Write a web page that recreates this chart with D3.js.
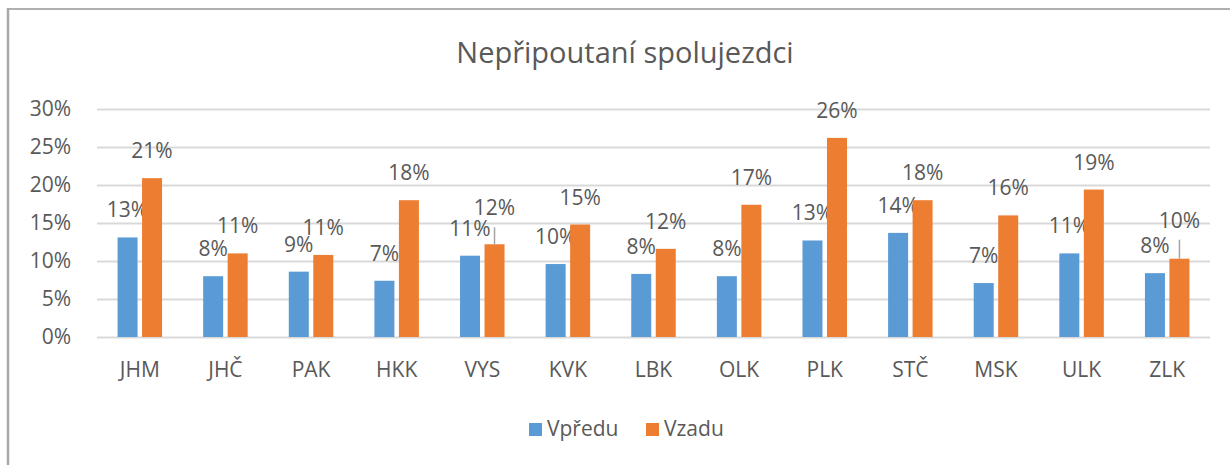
<!DOCTYPE html>
<html>
<head>
<meta charset="utf-8">
<script src="https://cdn.jsdelivr.net/npm/d3@7"></script>
<style>
  body { margin: 0; background: #fff; }
  text { font-family: "Open Sans", "Noto Sans", sans-serif; fill: #595959; }
</style>
</head>
<body>
<div id="chart"></div>
<script>
var categories = ["JHM", "JHČ", "PAK", "HKK", "VYS", "KVK", "LBK", "OLK", "PLK", "STČ", "MSK", "ULK", "ZLK"];
var vpredu = [0.131, 0.080, 0.086, 0.074, 0.107, 0.096, 0.083, 0.080, 0.127, 0.137, 0.071, 0.110, 0.084];
var vzadu = [0.209, 0.110, 0.108, 0.180, 0.122, 0.148, 0.116, 0.174, 0.262, 0.180, 0.160, 0.194, 0.103];
var seriesNames = ["Vpředu", "Vzadu"];
var yTicks = [0, 0.05, 0.10, 0.15, 0.20, 0.25, 0.30];
var title = "Nepřipoutaní spolujezdci";

function chart() {
  var width = 1230, height = 465;
  var margin = {top: 109, right: 20, bottom: 128, left: 97};
  var plotW = 1210 - margin.left;
  var plotH = 337 - margin.top;
  var colors = ["#5B9BD5", "#ED7D31"];
  var fs = "21px";

  var svg = d3.select("#chart")
    .append("svg")
      .attr("width", width)
      .attr("height", height);

  // chart frame (only top and left edges show)
  svg.append("line")
    .attr("x1", 7).attr("y1", 9).attr("x2", width).attr("y2", 9)
    .attr("stroke", "#b0b0b0").attr("stroke-width", 2);
  svg.append("line")
    .attr("x1", 8).attr("y1", 8).attr("x2", 8).attr("y2", height)
    .attr("stroke", "#a8a8a8").attr("stroke-width", 2.5);

  svg.append("text")
    .attr("x", 625).attr("y", 63)
    .attr("text-anchor", "middle")
    .style("font-size", "29px")
    .text(title);

  var g = svg.append("g")
    .attr("transform", "translate(" + margin.left + "," + margin.top + ")");

  var x = d3.scaleBand().domain(categories).range([0, plotW]);
  var y = d3.scaleLinear().domain([0, 0.30]).range([plotH, 0]);
  var barW = 20, gap = 4.5;

  // gridlines + y axis labels
  g.append("g")
    .call(d3.axisLeft(y).tickValues(yTicks).tickSize(-plotW).tickPadding(26)
      .tickFormat(d3.format(".0%")))
    .call(function(a) {
      a.select(".domain").remove();
      a.selectAll(".tick line").attr("stroke", "#d9d9d9").attr("stroke-width", 2);
      a.selectAll(".tick text").style("font-size", fs).attr("fill", "#595959");
    });

  // x axis labels
  g.append("g")
    .attr("transform", "translate(0," + plotH + ")")
    .call(d3.axisBottom(x).tickSize(0))
    .call(function(a) {
      a.select(".domain").remove();
      a.selectAll(".tick text").style("font-size", fs).attr("fill", "#595959")
        .attr("y", 40).attr("dy", 0);
    });

  var series = [vpredu, vzadu];
  // labels that were dragged up and got a leader line
  var lifted = {"VYS": 9, "ZLK": 11};

  series.forEach(function(vals, s) {
    var off = s === 0 ? -(barW + gap) / 2 : (barW + gap) / 2;
    function cx(d, i) { return x(categories[i]) + x.bandwidth() / 2 + off; }

    g.selectAll(".bar" + s)
      .data(vals)
      .enter()
      .append("rect")
        .attr("x", function(d, i) { return cx(d, i) - barW / 2; })
        .attr("y", function(d) { return y(d); })
        .attr("width", barW)
        .attr("height", function(d) { return plotH - y(d); })
        .attr("fill", colors[s]);

    g.selectAll(".lbl" + s)
      .data(vals)
      .enter()
      .append("text")
        .attr("x", cx)
        .attr("y", function(d, i) {
          var lift = s === 1 && lifted[categories[i]] ? lifted[categories[i]] : 0;
          return y(d) - 20 - lift;
        })
        .attr("text-anchor", "middle")
        .style("font-size", fs)
        .attr("fill", "#404040")
        .text(function(d) { return d3.format(".0%")(d); });

    if (s === 1) {
      vals.forEach(function(d, i) {
        var lift = lifted[categories[i]];
        if (!lift) return;
        g.append("line")
          .attr("x1", cx(d, i)).attr("x2", cx(d, i))
          .attr("y1", y(d) - lift - 8).attr("y2", y(d))
          .attr("stroke", "#a6a6a6").attr("stroke-width", 1.5);
      });
    }
  });

  // legend
  var legend = svg.append("g").attr("transform", "translate(529,423)");
  var items = [{name: seriesNames[0], x: 0}, {name: seriesNames[1], x: 117}];
  items.forEach(function(it, i) {
    legend.append("rect")
      .attr("x", it.x).attr("y", 0).attr("width", 13).attr("height", 13)
      .attr("fill", colors[i]);
    legend.append("text")
      .attr("x", it.x + 18).attr("y", 13)
      .style("font-size", fs)
      .text(it.name);
  });

  return svg;
}
chart();
</script>
</body>
</html>
